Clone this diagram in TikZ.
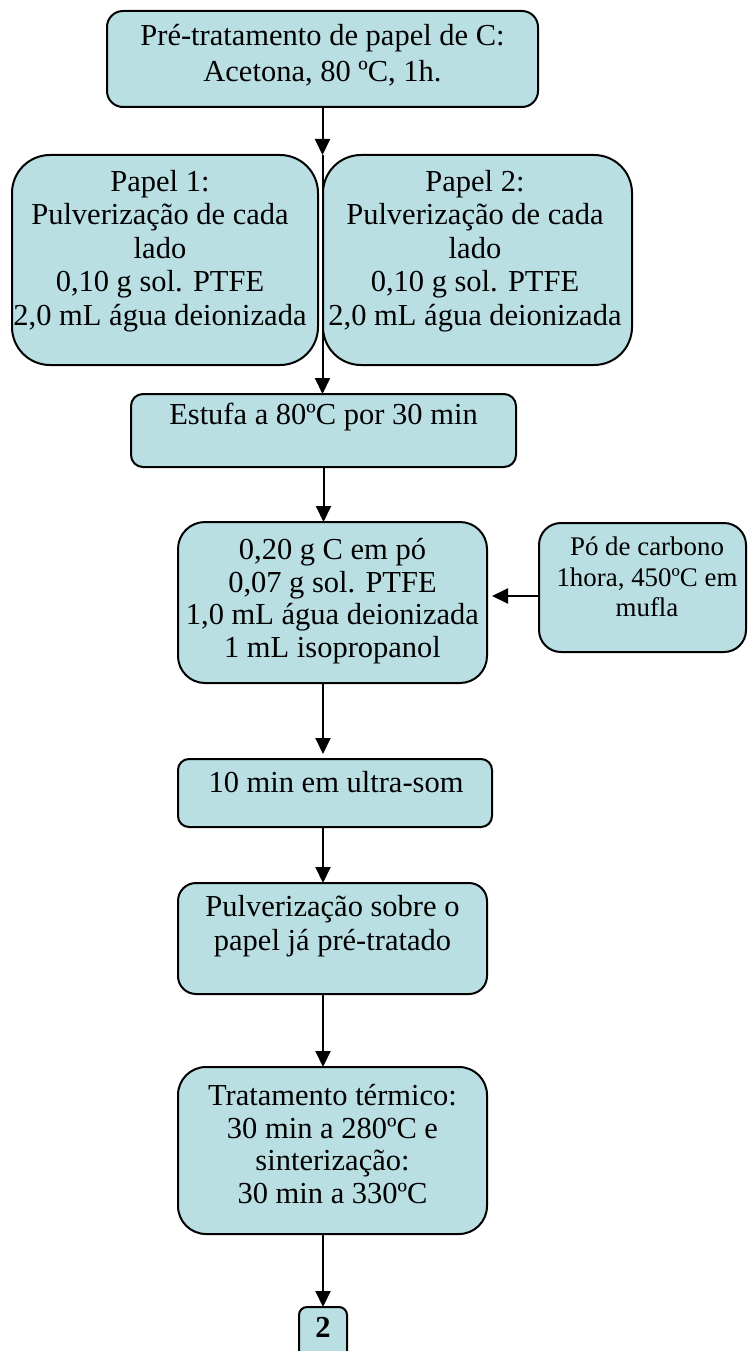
\documentclass[tikz,border=0pt]{standalone}
\usepackage{fontspec}
\setmainfont{Liberation Serif}
\usetikzlibrary{arrows.meta}
\definecolor{boxfill}{RGB}{186,223,227}
\begin{document}
\begin{tikzpicture}[x=1pt,y=-1pt,
  box/.style={draw=black, line width=2pt, fill=boxfill, inner sep=0pt, outer sep=0pt},
  txt/.style={align=center, inner sep=0pt, font=\fontsize{30.5}{33.5}\selectfont},
  arr/.style={line width=2pt, -{Triangle[length=16pt,width=15pt]}}]
\useasboundingbox (0,0) rectangle (748,1351);

% boxes
\node[box, rounded corners=16pt, minimum width=431pt, minimum height=96pt] (b0) at (322.5,59) {};
\node[box, rounded corners=38pt, minimum width=306pt, minimum height=210pt] (p1) at (165,260) {};
\node[box, rounded corners=38pt, minimum width=309pt, minimum height=210pt] (p2) at (477.5,260) {};
\node[box, rounded corners=12pt, minimum width=385pt, minimum height=73pt] (est) at (323.5,430.5) {};
\node[box, rounded corners=27pt, minimum width=309pt, minimum height=161pt] (b3) at (332.5,602.5) {};
\node[box, rounded corners=22pt, minimum width=207pt, minimum height=129pt] (side) at (642.5,587.5) {};
\node[box, rounded corners=11pt, minimum width=314pt, minimum height=68pt] (b4) at (335,793) {};
\node[box, rounded corners=18pt, minimum width=309pt, minimum height=111pt] (b5) at (332.5,938.5) {};
\node[box, rounded corners=28pt, minimum width=309pt, minimum height=167pt] (b6) at (332.5,1150.5) {};
\node[box, rounded corners=8pt, minimum width=48pt, minimum height=53pt] (b2) at (323,1333.5) {};

% texts
\node[txt, font=\fontsize{30.5}{36}\selectfont] (t0) at (322.5,55) {Pré-tratamento de papel de C:\\Acetona, 80 ºC, 1h.};
\node[txt] (tp1) at (160,251) {Papel 1:\\Pulverização de cada\\lado\\0,10 g sol. PTFE\\2,0 mL água deionizada};
\node[txt] (tp2) at (475,251) {Papel 2:\\Pulverização de cada\\lado\\0,10 g sol. PTFE\\2,0 mL água deionizada};
\node[txt] (te) at (323.5,417) {Estufa a 80ºC por 30 min};
\node[txt, font=\fontsize{30.5}{32.5}\selectfont] (t3) at (332.5,601) {0,20 g C em pó\\0,07 g sol. PTFE\\1,0 mL água deionizada\\1 mL isopropanol};
\node[txt, font=\fontsize{26.9}{30.5}\selectfont] (ts) at (647,577) {Pó de carbono\\1hora, 450ºC em\\mufla};
\node[txt] (t4) at (336,782) {10 min em ultra-som};
\node[txt] (t5) at (332.5,926) {Pulverização sobre o\\papel já pré-tratado};
\node[txt, font=\fontsize{30.5}{32.5}\selectfont] (t6) at (332.5,1144) {Tratamento térmico:\\30 min a 280ºC e\\sinterização:\\30 min a 330ºC};
\node[txt, font=\fontsize{30.5}{33.5}\selectfont\bfseries] (t2) at (323,1327) {2};

% connectors
\coordinate (j1) at (b0.south |- p1.north);
\draw[arr] (b0.south) -- (j1);
\draw[arr] (j1) -- (j1 |- est.north);
\draw[arr] (est.south) -- (est.south |- b3.north);
\coordinate (s1) at ([yshift=-8.5pt]side.west);
\draw[arr, shorten >=5pt] (s1) -- (s1 -| b3.east);
\draw[arr, shorten >=5pt] (b3.south -| b2.north) -- (b4.north -| b2.north);
\draw[arr] (b4.south -| b2.north) -- (b5.north -| b2.north);
\draw[arr] (b5.south -| b2.north) -- (b6.north -| b2.north);
\draw[arr] (b6.south -| b2.north) -- (b2.north);
\end{tikzpicture}
\end{document}
